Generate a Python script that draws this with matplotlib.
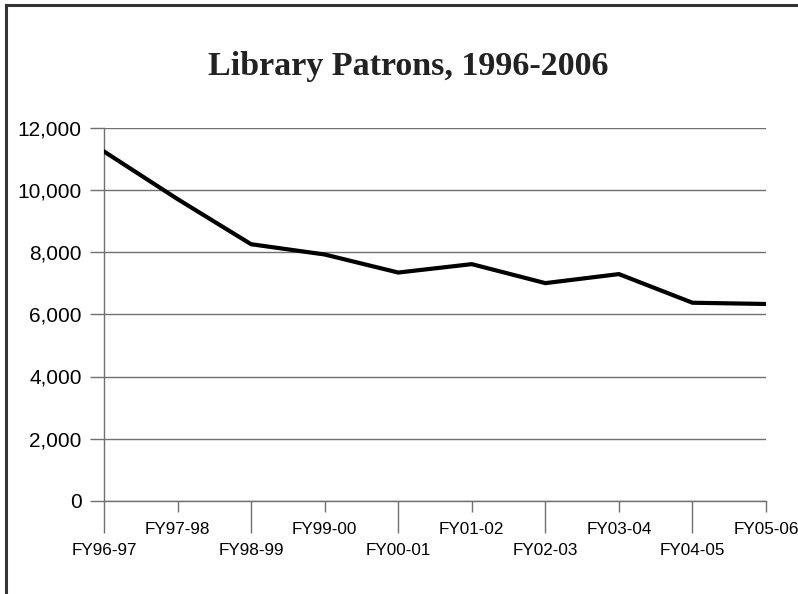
import matplotlib.pyplot as plt
from matplotlib.lines import Line2D
from matplotlib.ticker import FixedLocator, StrMethodFormatter

years = ['FY96-97', 'FY97-98', 'FY98-99', 'FY99-00', 'FY00-01',
         'FY01-02', 'FY02-03', 'FY03-04', 'FY04-05', 'FY05-06']
patrons = [11230, 9700, 8250, 7920, 7340, 7610, 7000, 7290, 6370, 6330]
yticks = [0, 2000, 4000, 6000, 8000, 10000, 12000]

plt.rcParams['font.family'] = 'Liberation Sans'
grey = '#707070'

fig = plt.figure(figsize=(7.98, 5.94), dpi=100)
ax = fig.add_axes([104/798, 1 - 501/594, 662/798, 373.5/594])

x = list(range(len(years)))
ax.plot(x, patrons, color='black', linewidth=3, solid_joinstyle='miter', zorder=3)

ax.set_xlim(0, len(years) - 1)
ax.set_ylim(0, 12000)
ax.set_yticks(yticks)
ax.yaxis.set_major_formatter(StrMethodFormatter('{x:,.0f}'))
ax.grid(axis='y', color=grey, linewidth=1)
ax.set_axisbelow(True)

# alternating label rows: even positions long tick, odd short tick
ax.xaxis.set_major_locator(FixedLocator(x[0::2]))
ax.xaxis.set_minor_locator(FixedLocator(x[1::2]))
ax.set_xticklabels(years[0::2])
ax.set_xticklabels(years[1::2], minor=True)
ax.tick_params(axis='x', which='major', length=23, width=1, color=grey,
               pad=7.5, labelsize=12.3)
ax.tick_params(axis='x', which='minor', length=8, width=1, color=grey,
               pad=7, labelsize=12.3)
ax.tick_params(axis='y', length=10, width=1, color=grey, pad=6, labelsize=15)

for s in ['top', 'right']:
    ax.spines[s].set_visible(False)
for s in ['left', 'bottom']:
    ax.spines[s].set_color(grey)
    ax.spines[s].set_linewidth(1)

fig.text(0.511, 1 - 75/594, 'Library Patrons, 1996-2006', ha='center', va='baseline',
         fontsize=24.5, fontweight='bold', family='Liberation Serif', color='#222222')

# partial frame on the left and top
fig.add_artist(Line2D([6/798, 6/798], [0, 1 - 5/594], color='#333333', linewidth=2.2))
fig.add_artist(Line2D([6/798, 1], [1 - 5/594, 1 - 5/594], color='#333333', linewidth=2.2))

fig.savefig('out.png', dpi=100)
